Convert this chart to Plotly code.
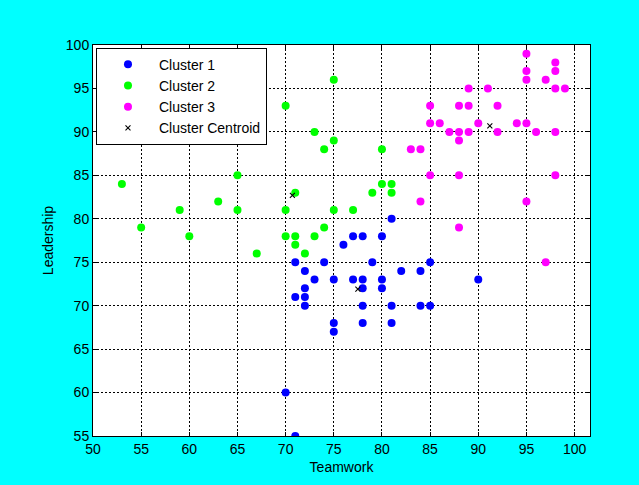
import plotly.graph_objects as go

# Cluster 1 (blue)
c1_teamwork = [71, 72, 74, 73, 75, 72, 71, 72, 72, 75, 75, 70, 71, 77, 78, 80, 76,
               79, 85, 82, 84, 77, 78, 80, 78, 80, 90, 78, 81, 84, 85, 78, 81, 81]
c1_leadership = [75, 74, 75, 73, 73, 72, 71, 71, 70, 68, 67, 60, 55, 78, 78, 78, 77,
                 75, 75, 74, 74, 73, 73, 73, 72, 72, 73, 70, 70, 70, 70, 68, 68, 80]

# Cluster 2 (green)
c2_teamwork = [53, 55, 59, 60, 63, 65, 65, 67, 70, 70, 70, 71, 71, 71, 72, 73, 73,
               74, 74, 75, 75, 75, 77, 79, 80, 80, 81, 81]
c2_leadership = [84, 79, 81, 78, 82, 85, 81, 76, 93, 81, 78, 83, 78, 77, 76, 90, 78,
                 88, 79, 96, 89, 81, 81, 83, 88, 84, 84, 83]

# Cluster 3 (magenta)
c3_teamwork = [95, 95, 95, 98, 98, 97, 98, 99, 89, 91, 85, 88, 89, 92, 85, 86, 90, 94,
               95, 87, 88, 89, 92, 96, 98, 88, 83, 84, 85, 88, 98, 84, 95, 88, 97]
c3_leadership = [99, 97, 96, 98, 97, 96, 95, 95, 95, 95, 93, 93, 93, 93, 91, 91, 91, 91,
                 91, 90, 90, 90, 90, 90, 90, 89, 88, 88, 85, 85, 85, 82, 82, 79, 75]

# Centroids
centroid_teamwork = [77.5, 70.7, 91.2]
centroid_leadership = [71.9, 82.7, 90.7]

x_ticks = [50, 55, 60, 65, 70, 75, 80, 85, 90, 95, 100]
y_ticks = [55, 60, 65, 70, 75, 80, 85, 90, 95, 100]

FONT = "Liberation Sans, Arial, sans-serif"

fig = go.Figure()
for name, xs, ys, col in [
    ("Cluster 1", c1_teamwork, c1_leadership, "#0000FF"),
    ("Cluster 2", c2_teamwork, c2_leadership, "#00FF00"),
    ("Cluster 3", c3_teamwork, c3_leadership, "#FF00FF"),
]:
    fig.add_trace(go.Scatter(
        x=xs, y=ys, mode="markers", name=name, legendgroup=name,
        marker=dict(color=col, size=8, line=dict(width=0)),
    ))
fig.add_trace(go.Scatter(
    x=centroid_teamwork, y=centroid_leadership, mode="markers",
    name="Cluster Centroid", legendgroup="centroid",
    marker=dict(symbol="x-thin", size=5, color="black",
                line=dict(width=1.1, color="black")),
))

axis_common = dict(
    showline=True, linecolor="black", linewidth=1, mirror="ticks",
    ticks="inside", ticklen=4, tickcolor="black",
    showgrid=True, gridcolor="black", gridwidth=1, griddash="2px,2px",
    zeroline=False,
    tickfont=dict(family=FONT, size=14, color="black"),
)

fig.update_xaxes(range=[50, 101.6], tickvals=x_ticks,
                 title=dict(text="Teamwork", font=dict(family=FONT, size=14, color="black"),
                            standoff=6),
                 **axis_common)
fig.update_yaxes(range=[55, 100], tickvals=y_ticks,
                 title=dict(text="Leadership", font=dict(family=FONT, size=14, color="black"),
                            standoff=8),
                 **axis_common)

fig.update_layout(
    width=639, height=485,
    margin=dict(l=93, r=49, t=45, b=49),
    paper_bgcolor="#00FFFF", plot_bgcolor="white",
    font=dict(family=FONT, size=14, color="black"),
    showlegend=True,
    legend=dict(
        x=0.006, y=0.993, xanchor="left", yanchor="top",
        bgcolor="white", bordercolor="black", borderwidth=1,
        font=dict(family=FONT, size=14, color="black"),
        tracegroupgap=0, itemwidth=52,
    ),
)

fig.write_html("out.html",
               config={"displayModeBar": False},
               post_script="document.body.style.margin='0';document.body.style.padding='0';")
